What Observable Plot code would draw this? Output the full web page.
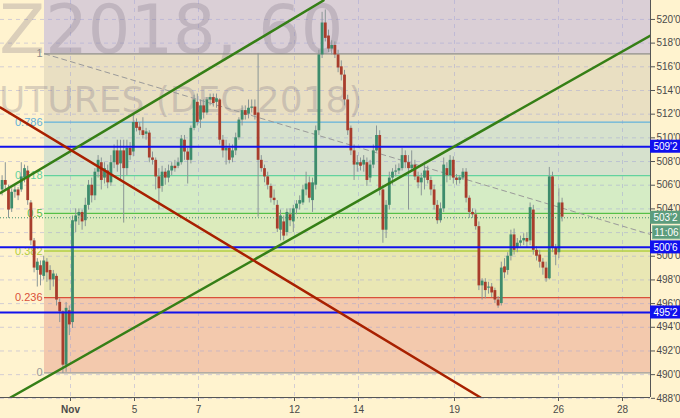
<!DOCTYPE html>
<html><head><meta charset="utf-8">
<script src="https://cdn.jsdelivr.net/npm/d3@7"></script>
<script src="https://cdn.jsdelivr.net/npm/@observablehq/plot@0.6"></script>
<style>
html,body{margin:0;padding:0;background:#fff3cf;}
svg{display:block;}
</style></head><body>
<script>
// ---- hourly candles (cents) ----
const barOpen = [
505.6,506.4,505.7,504.0,505.4,505.6,505.6,506.6,507.2,504.5,
501.3,498.8,499.2,498.3,499.5,498.8,498.0,498.3,496.1,495.3,
490.8,495.4,494.4,502.9,503.4,503.7,503.0,504.3,506.0,505.1,
507.1,507.9,506.6,507.2,506.2,507.9,508.9,507.8,508.9,507.4,
509.1,508.8,511.3,510.9,510.6,510.3,510.4,508.3,508.1,506.7,
505.9,507.1,506.6,507.2,507.6,507.6,507.9,509.8,508.8,508.1,
510.8,513.0,511.5,512.7,512.1,513.2,513.4,513.0,513.2,509.8,
508.9,509.1,508.3,508.9,510.0,511.5,512.3,512.0,512.5,512.6,
512.1,508.1,507.4,506.7,505.9,504.9,504.3,502.2,502.9,502.0,
503.5,502.9,504.0,504.4,504.5,505.6,506.2,504.7,506.0,510.6,
517.0,519.7,518.6,517.5,517.8,517.0,516.0,515.3,513.2,510.8,
508.9,507.7,507.9,507.7,507.9,506.6,507.7,508.9,510.2,505.6,
502.2,504.3,506.6,507.1,507.2,507.4,508.5,507.9,507.4,507.7,
506.7,506.2,506.6,507.2,506.4,505.6,504.3,503.0,504.0,507.4,
506.8,508.1,506.6,506.4,506.6,507.1,504.9,503.7,503.5,502.5,
497.5,497.8,497.3,497.4,497.1,496.3,496.0,499.1,498.8,500.0,
501.8,500.7,501.1,501.3,501.5,501.3,503.9,500.5,500.1,499.5,
499.0,498.1,506.7,500.7,500.3,504.5];
const barHigh = [
506.8,507.9,506.0,505.7,506.0,505.8,507.9,507.7,507.6,504.7,
501.5,499.8,499.6,500.0,499.8,499.2,498.8,498.5,496.4,495.4,
496.1,495.8,503.4,504.0,504.0,503.9,504.9,506.4,506.6,507.4,
508.5,508.3,507.9,507.7,508.5,509.4,509.8,509.8,509.8,509.8,
509.6,511.9,511.6,511.3,511.7,510.8,510.6,508.8,508.3,507.4,
507.6,507.4,507.7,507.9,508.1,508.3,510.2,510.2,509.1,511.0,
513.6,513.7,513.2,513.2,513.4,513.7,513.7,513.7,513.3,510.2,
509.8,509.5,509.4,510.4,511.7,512.7,512.7,513.2,513.2,513.2,
517.1,508.5,507.7,507.1,506.1,505.6,504.7,503.9,503.4,504.0,
504.0,504.3,504.7,505.1,506.0,507.1,506.7,506.6,511.0,517.4,
520.6,520.8,519.1,518.2,518.1,517.4,516.5,515.7,513.6,511.0,
509.4,508.5,508.3,508.5,508.3,508.1,509.4,511.0,510.6,506.0,
504.7,507.1,507.4,507.7,507.8,509.1,508.9,508.5,508.9,508.1,
507.1,507.0,507.7,507.6,506.7,506.0,504.7,504.5,508.3,507.9,
508.5,508.4,506.9,506.8,507.4,507.4,505.1,504.0,503.9,502.9,
498.1,498.1,497.8,497.7,497.3,496.6,499.5,499.8,500.3,502.2,
502.3,501.5,501.7,501.9,502.0,504.5,504.3,500.8,500.5,499.8,
499.5,507.5,507.1,501.0,505.7,504.9];
const barLow = [
505.1,505.6,503.2,503.7,504.9,504.7,505.4,506.2,504.3,500.9,
498.6,497.4,497.5,498.0,497.8,497.1,497.4,495.8,494.4,490.1,
490.2,493.3,493.9,502.0,502.6,502.2,502.5,503.9,504.5,504.7,
506.6,505.6,506.1,505.7,505.9,507.4,507.1,506.4,502.8,506.8,
508.1,508.4,510.5,510.2,509.9,509.8,507.9,507.7,505.6,503.9,
505.4,506.0,506.2,506.8,507.1,507.4,507.7,508.1,506.1,507.8,
510.6,511.0,510.8,511.6,511.9,512.7,512.6,512.5,509.4,508.3,
507.7,507.8,507.9,508.5,509.8,511.0,511.5,511.6,512.1,511.5,
503.3,507.1,506.2,505.6,504.5,504.3,502.0,501.3,501.3,501.7,
502.5,502.0,503.5,503.9,504.3,505.1,504.5,503.7,505.6,510.2,
516.7,518.1,517.2,517.0,516.7,515.5,514.8,512.7,510.2,508.5,
506.4,507.1,507.2,507.1,505.9,506.2,507.4,508.8,505.1,501.1,
501.5,503.9,506.0,506.7,506.9,507.2,507.4,503.9,507.1,506.4,
505.7,505.1,505.6,506.1,505.1,503.9,502.7,502.8,503.7,506.2,
506.4,506.1,506.0,506.1,506.4,504.5,503.2,503.2,502.2,497.1,
496.3,496.4,496.8,496.5,496.0,495.6,495.8,498.1,498.4,499.6,
500.1,500.3,500.8,500.9,500.7,500.9,500.1,499.6,499.0,498.4,
497.8,498.0,500.3,499.2,499.8,502.9];
const barClose = [
506.4,506.0,503.9,505.4,505.6,505.1,506.7,507.4,504.7,501.3,
499.0,499.5,498.4,499.6,498.6,498.0,498.5,496.3,495.3,490.8,
495.6,494.2,503.0,503.4,503.7,502.9,504.3,506.0,505.1,507.1,
508.1,506.4,507.4,506.2,507.9,508.9,507.7,508.9,507.4,509.1,
508.5,511.3,510.8,510.6,510.2,510.5,508.3,508.1,506.7,505.7,
507.1,506.6,507.2,507.6,507.4,507.9,509.9,508.8,508.1,510.8,
513.2,511.3,512.7,512.1,513.2,513.4,512.9,513.3,509.8,508.9,
509.1,508.1,508.9,510.0,511.5,512.3,511.9,512.5,512.6,511.9,
508.1,507.4,506.7,506.0,504.9,504.7,502.3,503.4,501.7,503.7,
503.0,504.0,504.4,504.7,505.6,506.1,504.9,506.2,510.6,517.0,
519.7,518.4,517.5,517.8,517.0,515.9,515.3,513.2,510.6,508.9,
507.7,507.9,507.6,508.1,506.4,507.7,508.9,510.2,505.6,502.2,
504.3,506.6,507.1,507.2,507.4,508.5,507.9,507.4,507.7,506.7,
506.2,506.6,507.2,506.4,505.6,504.3,503.0,504.0,507.7,506.8,
508.1,506.6,506.4,506.6,507.1,504.9,503.7,503.5,502.5,497.5,
497.9,497.1,497.4,496.9,496.3,495.8,499.0,498.6,500.0,501.8,
500.5,501.1,501.3,501.5,501.2,504.1,500.5,500.0,499.5,499.0,
498.1,506.7,500.7,500.1,504.5,503.3];

// time axis in trading days (Nov 1 = 0), hourly bars 0.1 day apart
const firstBarDay = -2.1375;
const barStep = 0.1;
const dayTicks = [0, 2, 4, 7, 9, 12, 15.25, 17.25];
const dayLabels = ["Nov", "5", "7", "12", "14", "19", "26", "28"];
const priceTicks = [488,490,492,494,496,498,500,502,504,506,508,510,512,514,516,518,520];
const hiddenPriceLabels = [502]; // covered by the price tags in the picture

// Fibonacci retracement
const fibLevels = [0, 0.236, 0.382, 0.5, 0.618, 0.786, 1];
const fibLow = 490.15, fibHigh = 517.1, fibStartDay = -0.8125;
const fibLineColors = ["#9a9a9a", "#d9503a", "#b3cf3f", "#55c047", "#63d29e", "#62b0da", "#8c8c8c"];
const fibBandColors = ["#f3c9ad", "#e9e7b4", "#dcebbc", "#d5ecc5", "#d6e1cd", "#e9dfc2", "#dacfd6"];

// horizontal levels and last price
const keyLevels = [509.25, 500.75, 495.25];
const lastPrice = 503.25;
const countdown = "11:06";

// trend lines [day, price]
const channelUpper = [[-2.1875, 505.34], [7.906, 521.6]];
const channelLower = [[-1.875, 488.07], [18.125, 518.64]];
const downTrend = [[-2.1875, 512.56], [12.8125, 488.07]];
const fibDiagonal = [[-0.8125, 517.1], [18.125, 501.84]];

const xDomain = [-2.1875, 18.125];
const yDomain = [488.07, 521.6];

const fmt = v => `${Math.floor(v)}'${Math.round((v % 1) * 8)}`;
const fibPrice = l => fibLow + l * (fibHigh - fibLow);
const bands = fibLevels.map((l, i) => ({
  y1: fibPrice(l),
  y2: i < fibLevels.length - 1 ? fibPrice(fibLevels[i + 1]) : yDomain[1],
  fill: fibBandColors[i]
}));
const bars = barOpen.map((o, i) => ({t: firstBarDay + i * barStep, o, h: barHigh[i], l: barLow[i], c: barClose[i]}));
const tags = [...keyLevels.map(p => ({p, fill: "#1010ee"})), {p: lastPrice, fill: "#5c9c7c"}];
const up = "#3d8c6c", down = "#a83d2c";
const tagRight = xDomain[1] + 30 / 32;

const chart = Plot.plot({
  width: 680, height: 418,
  marginLeft: 0, marginRight: 30, marginTop: 0, marginBottom: 21,
  style: {background: "#fff3cf", fontFamily: "'Liberation Sans', Arial, sans-serif", fontSize: "10px", color: "#4a4a4a"},
  x: {domain: xDomain},
  y: {domain: yDomain},
  color: {type: "identity"},
  marks: [
    Plot.rect(bands, {x1: fibStartDay, x2: xDomain[1], y1: "y1", y2: "y2", fill: "fill"}),
    Plot.gridY(priceTicks, {stroke: "#9ea0d8", strokeOpacity: 0.45, strokeDasharray: "4,4"}),
    Plot.gridX(dayTicks, {stroke: "#9ea0d8", strokeOpacity: 0.45, strokeDasharray: "4,4"}),
    Plot.text(["Z2018, 60"], {frameAnchor: "top-left", dx: 343, dy: 52, textAnchor: "end", lineAnchor: "bottom",
      fontSize: 67, fontFamily: "DejaVu Sans", fill: "#7d7486", fillOpacity: 0.28}),
    Plot.text(["FUTURES (DEC 2018)"], {frameAnchor: "top-left", dx: 362, dy: 111, textAnchor: "end", lineAnchor: "bottom",
      fontSize: 36, fontFamily: "DejaVu Sans", fill: "#7d7486", fillOpacity: 0.28}),
    Plot.ruleY(fibLevels, {y: fibPrice, x1: fibStartDay, x2: xDomain[1], stroke: d => fibLineColors[fibLevels.indexOf(d)], strokeWidth: 1.3}),
    Plot.text(fibLevels, {x: fibStartDay, y: fibPrice, text: d => String(d), textAnchor: "end", dx: -2, fontSize: 11,
      fill: d => fibLineColors[fibLevels.indexOf(d)]}),
    Plot.line(fibDiagonal, {x: d => d[0], y: d => d[1], stroke: "#9a9a9a", strokeDasharray: "5,4", strokeWidth: 1}),
    Plot.ruleX(bars, {x: "t", y1: "l", y2: "h", stroke: "#8a9696", strokeWidth: 1}),
    Plot.ruleX(bars, {x: "t", y1: "o", y2: "c", stroke: d => d.c >= d.o ? up : down, strokeWidth: 2.8}),
    Plot.ruleY([lastPrice], {stroke: "#3f8f6f", strokeDasharray: "1,2"}),
    Plot.ruleY(keyLevels, {stroke: "#1212ec", strokeWidth: 2}),
    Plot.line(channelUpper, {x: d => d[0], y: d => d[1], stroke: "#357f16", strokeWidth: 2.5, clip: true}),
    Plot.line(channelLower, {x: d => d[0], y: d => d[1], stroke: "#357f16", strokeWidth: 2.5, clip: true}),
    Plot.line(downTrend, {x: d => d[0], y: d => d[1], stroke: "#a82000", strokeWidth: 2.5, clip: true}),
    Plot.ruleX([xDomain[1]], {stroke: "#555"}),
    Plot.ruleY([yDomain[0]], {stroke: "#555"}),
    Plot.axisY(priceTicks, {anchor: "right", tickSize: 4, tickPadding: 2,
      tickFormat: d => hiddenPriceLabels.includes(d) ? "" : `${d}'0`, label: null, fill: "#4a4a4a", stroke: "#555"}),
    Plot.axisX([dayTicks[0]], {tickSize: 4, tickPadding: 4, tickFormat: d => dayLabels[dayTicks.indexOf(d)], label: null, fontWeight: "bold", fill: "#4a4a4a", stroke: "#555"}),
    Plot.axisX(dayTicks.slice(1), {tickSize: 4, tickPadding: 4, tickFormat: d => dayLabels[dayTicks.indexOf(d)], label: null, fill: "#4a4a4a", stroke: "#555"}),
    Plot.rect(tags, {x1: xDomain[1], x2: tagRight, y1: d => d.p - 0.55, y2: d => d.p + 0.55, fill: "fill"}),
    Plot.text(tags, {x: xDomain[1], y: "p", text: d => fmt(d.p), dx: 15, fill: "white"}),
    Plot.rect([lastPrice], {x1: xDomain[1] + 0.08, x2: tagRight, y1: d => d - 0.55, y2: d => d + 0.55, dy: 15, fill: "#5c9c7c", stroke: "#7fb69a"}),
    Plot.text([countdown], {x: xDomain[1], y: lastPrice, dx: 16, dy: 15, fill: "white"})
  ]
});
document.body.appendChild(chart);
</script>
</body></html>
